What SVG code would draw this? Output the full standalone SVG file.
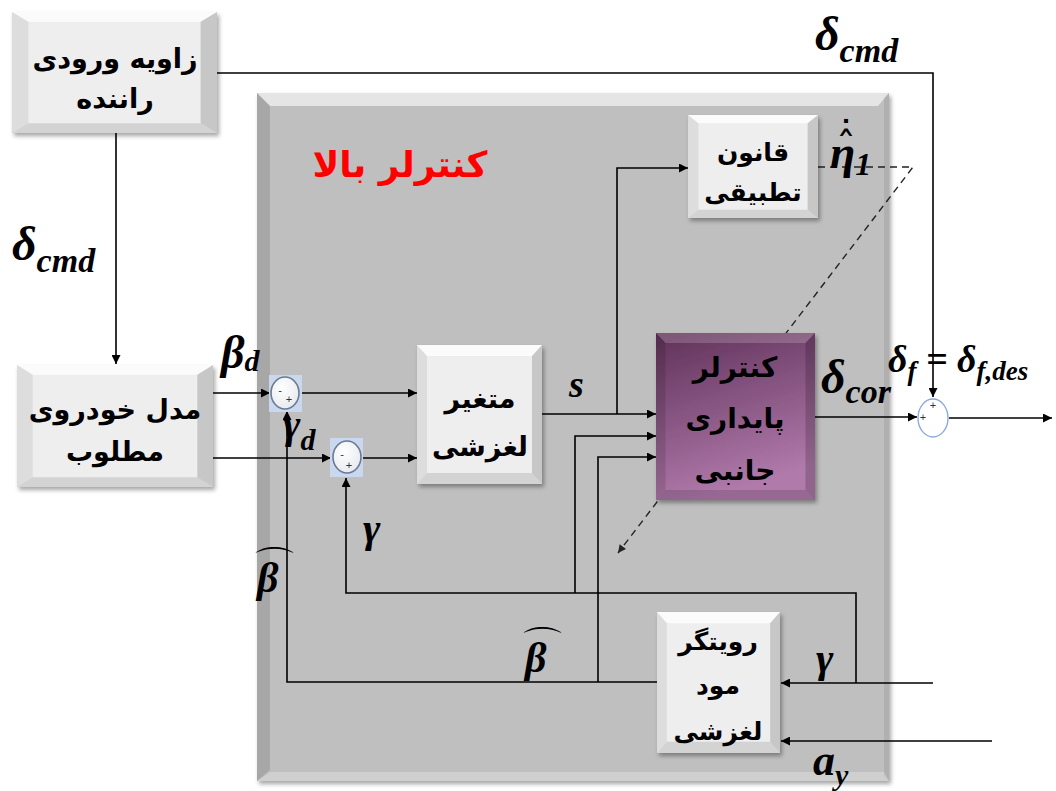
<svg xmlns="http://www.w3.org/2000/svg" width="1056" height="791" viewBox="0 0 1056 791">
  <style>
    .fa { font-family: "DejaVu Sans", "Noto Sans", sans-serif; font-weight: bold; fill: #000; text-anchor: middle; }
    .m { font-family: "Liberation Serif", "DejaVu Serif", serif; font-style: italic; font-weight: bold; fill: #000; }
    .acc { font-family: "DejaVu Sans", sans-serif; fill: #000; text-anchor: middle; }
    .wire { fill: none; stroke: #000; stroke-width: 1.6; }
    .dash { fill: none; stroke: #222; stroke-width: 1.4; stroke-dasharray: 7 5; }
    .face { fill: #eeeeee; }
    .sign { font-family: "Liberation Sans", sans-serif; font-size: 11px; fill: #333; text-anchor: middle; }
  </style>
  <defs>
    <marker id="ah" viewBox="0 0 10 10" refX="10" refY="5" markerWidth="11" markerHeight="9" markerUnits="userSpaceOnUse" orient="auto">
      <path d="M0,0 L10,5 L0,10 z" fill="#000"/>
    </marker>
    <marker id="ahs" viewBox="0 0 10 10" refX="10" refY="5" markerWidth="9" markerHeight="8" markerUnits="userSpaceOnUse" orient="auto">
      <path d="M0,0 L10,5 L0,10 z" fill="#222"/>
    </marker>
    <filter id="sh" x="-10%" y="-10%" width="125%" height="125%">
      <feDropShadow dx="2" dy="3" stdDeviation="2" flood-color="#000" flood-opacity="0.35"/>
    </filter>
    <linearGradient id="purple" x1="0" y1="0" x2="0.3" y2="1">
      <stop offset="0" stop-color="#5f3159"/>
      <stop offset="1" stop-color="#b07aab"/>
    </linearGradient>
    <radialGradient id="ball" cx="0.4" cy="0.35" r="0.7">
      <stop offset="0" stop-color="#ffffff"/>
      <stop offset="1" stop-color="#e6e9ee"/>
    </radialGradient>
    <!-- bevel overlay, stretched to each box -->
    <symbol id="bevel" viewBox="0 0 100 100" preserveAspectRatio="none">
      <polygon points="0,0 100,0 92,8 8,8" fill="#fff" fill-opacity="0.75"/>
      <polygon points="0,0 8,8 8,92 0,100" fill="#000" fill-opacity="0.07"/>
      <polygon points="100,0 100,100 92,92 92,8" fill="#000" fill-opacity="0.16"/>
      <polygon points="0,100 8,92 92,92 100,100" fill="#000" fill-opacity="0.11"/>
    </symbol>
    <symbol id="bevelP" viewBox="0 0 100 100" preserveAspectRatio="none">
      <polygon points="0,0 100,0 94,6 6,6" fill="#fff" fill-opacity="0.18"/>
      <polygon points="0,0 6,6 6,94 0,100" fill="#000" fill-opacity="0.12"/>
      <polygon points="100,0 100,100 94,94 94,6" fill="#000" fill-opacity="0.18"/>
      <polygon points="0,100 6,94 94,94 100,100" fill="#000" fill-opacity="0.14"/>
    </symbol>
  </defs>

  <rect width="1056" height="791" fill="#fff"/>

  <!-- upper-level controller panel -->
  <g id="upper-controller">
    <rect x="257" y="93" width="632" height="688" fill="#bfbfbf" filter="url(#sh)"/>
    <polygon points="257,93 889,93 878,106 270,106" fill="#fff" fill-opacity="0.6"/>
    <polygon points="257,93 270,106 270,770 257,781" fill="#000" fill-opacity="0.12"/>
    <polygon points="889,93 889,781 884,776 884,98" fill="#000" fill-opacity="0.08"/>
    <polygon points="257,781 270,772 884,772 889,781" fill="#fff" fill-opacity="0.25"/>
    <text x="400" y="177" font-family="DejaVu Sans, sans-serif" font-weight="bold" font-size="36" fill="#ff0000" text-anchor="middle">کنترلر بالا</text>
  </g>

  <!-- connectors -->
  <g id="connectors">
    <path class="wire" d="M217,73 H933 V397" marker-end="url(#ah)"/>
    <path class="wire" d="M116,133 V364" marker-end="url(#ah)"/>
    <path class="wire" d="M213,393 H270" marker-end="url(#ah)"/>
    <path class="wire" d="M301,393 H417" marker-end="url(#ah)"/>
    <path class="wire" d="M213,458 H331" marker-end="url(#ah)"/>
    <path class="wire" d="M363,458 H417" marker-end="url(#ah)"/>
    <path class="wire" d="M542,414 H656" marker-end="url(#ah)"/>
    <path class="wire" d="M617,414 V168 H688" marker-end="url(#ah)"/>
    <path class="dash" d="M818,167 H913 L618,553" marker-end="url(#ahs)"/>
    <path class="wire" d="M815,417 H917" marker-end="url(#ah)"/>
    <path class="wire" d="M949,418 H1052" marker-end="url(#ah)"/>
    <path class="wire" d="M933,683 H781" marker-end="url(#ah)"/>
    <path class="wire" d="M856,683 V593 H346 V478" marker-end="url(#ah)"/>
    <path class="wire" d="M575,593 V436 H656" marker-end="url(#ah)"/>
    <path class="wire" d="M657,682 H287 V411" marker-end="url(#ah)"/>
    <path class="wire" d="M598,682 V457 H656" marker-end="url(#ah)"/>
    <path class="wire" d="M992,741 H781" marker-end="url(#ah)"/>
  </g>

  <!-- driver steering input -->
  <g id="driver-input">
    <rect x="12" y="12" width="205" height="121" class="face" filter="url(#sh)"/>
    <use href="#bevel" x="12" y="12" width="205" height="121"/>
    <text class="fa" font-size="27" x="115" y="68">زاویه ورودی</text>
    <text class="fa" font-size="27" x="115" y="108">راننده</text>
  </g>

  <!-- desired vehicle model -->
  <g id="desired-model">
    <rect x="17" y="365" width="196" height="122" class="face" filter="url(#sh)"/>
    <use href="#bevel" x="17" y="365" width="196" height="122"/>
    <text class="fa" font-size="27" x="115" y="419">مدل خودروی</text>
    <text class="fa" font-size="27" x="115" y="461">مطلوب</text>
  </g>

  <!-- summing junctions -->
  <g id="sum-beta">
    <rect x="269" y="375" width="33" height="37" fill="#c9d8ee"/>
    <ellipse cx="285" cy="393" rx="14" ry="16" fill="url(#ball)" stroke="#6a7a92" stroke-width="1.6"/>
    <text class="sign" x="280" y="394">-</text>
    <text class="sign" x="289" y="403" font-size="10">+</text>
  </g>
  <g id="sum-gamma">
    <rect x="330" y="438" width="33" height="39" fill="#c9d8ee"/>
    <ellipse cx="347" cy="457" rx="14" ry="16" fill="url(#ball)" stroke="#6a7a92" stroke-width="1.6"/>
    <text class="sign" x="342" y="458">-</text>
    <text class="sign" x="349" y="469" font-size="10">+</text>
  </g>
  <g id="sum-steer">
    <ellipse cx="933" cy="418" rx="15" ry="19" fill="#fff" stroke="#8eaadb" stroke-width="1.4"/>
    <text class="sign" x="933" y="409" fill="#999" font-size="9">+</text>
    <text class="sign" x="923" y="421" fill="#999" font-size="9">+</text>
  </g>

  <!-- sliding variable -->
  <g id="sliding-variable">
    <rect x="417" y="345" width="125" height="139" class="face" filter="url(#sh)"/>
    <use href="#bevel" x="417" y="345" width="125" height="139"/>
    <text class="fa" font-size="27" x="480" y="408">متغیر</text>
    <text class="fa" font-size="27" x="480" y="456">لغزشی</text>
  </g>

  <!-- adaptation law -->
  <g id="adaptation-law">
    <rect x="688" y="115" width="130" height="103" class="face" filter="url(#sh)"/>
    <use href="#bevel" x="688" y="115" width="130" height="103"/>
    <text class="fa" font-size="25" x="753" y="161">قانون</text>
    <text class="fa" font-size="25" x="753" y="201">تطبیقی</text>
  </g>

  <!-- lateral stability controller -->
  <g id="stability-controller">
    <rect x="656" y="333" width="159" height="167" fill="url(#purple)" filter="url(#sh)"/>
    <use href="#bevelP" x="656" y="333" width="159" height="167"/>
    <text class="fa" font-size="28" x="735" y="377">کنترلر</text>
    <text class="fa" font-size="28" x="735" y="428">پایداری</text>
    <text class="fa" font-size="28" x="735" y="480">جانبی</text>
  </g>

  <!-- sliding mode observer -->
  <g id="observer">
    <rect x="657" y="612" width="123" height="141" class="face" filter="url(#sh)"/>
    <use href="#bevel" x="657" y="612" width="123" height="141"/>
    <text class="fa" font-size="25" x="718" y="650">رویتگر</text>
    <text class="fa" font-size="25" x="718" y="694">مود</text>
    <text class="fa" font-size="25" x="718" y="740">لغزشی</text>
  </g>

  <!-- signal labels -->
  <g id="labels">
    <text class="m" font-size="48" x="815" y="50">δ<tspan font-size="34" dy="12">cmd</tspan></text>
    <text class="m" font-size="48" x="12" y="260">δ<tspan font-size="34" dy="12">cmd</tspan></text>
    <text class="m" font-size="46" x="221" y="368">β<tspan font-size="30" dy="3">d</tspan></text>
    <text class="m" font-size="42" x="283" y="438">γ<tspan font-size="30" dy="12">d</tspan></text>
    <text class="m" font-size="42" x="363" y="542">γ</text>
    <text class="m" font-size="42" x="257" y="592">β</text>
    <text class="acc" x="275" y="576" font-size="36" transform="translate(275 0) scale(1.25 1) translate(-275 0)">⌒</text>
    <text class="m" font-size="42" x="525" y="672">β</text>
    <text class="acc" x="543" y="656" font-size="36" transform="translate(543 0) scale(1.25 1) translate(-543 0)">⌒</text>
    <text class="m" font-size="38" x="569" y="397">s</text>
    <text class="m" font-size="48" x="821" y="393">δ<tspan font-size="34" dy="10">cor</tspan></text>
    <text class="m" font-size="38" x="888" y="372" font-weight="normal">δ<tspan font-size="27" dy="8">f</tspan><tspan font-size="38" dy="-8"> = δ</tspan><tspan font-size="27" dy="8">f,des</tspan></text>
    <text class="m" font-size="42" x="816" y="672">γ</text>
    <text class="m" font-size="44" x="813" y="775">a<tspan font-size="30" dy="10">y</tspan></text>
    <text class="m" font-size="46" x="830" y="168">η<tspan font-size="32" dy="7">1</tspan></text>
    <text class="acc" x="846" y="161" font-size="40">ˆ</text>
    <text class="acc" x="846" y="150" font-size="40">˙</text>
  </g>
</svg>
